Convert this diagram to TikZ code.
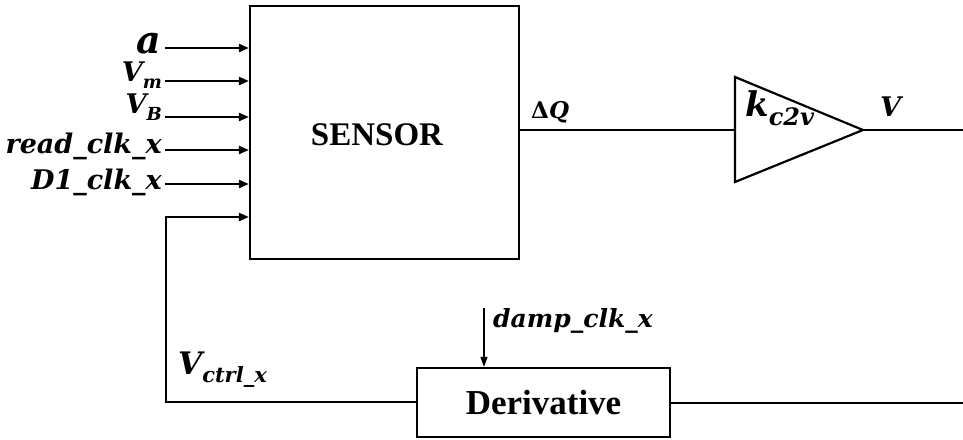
\documentclass[tikz,border=0pt]{standalone}
\usepackage{fontspec}
\setmainfont{Liberation Serif}
\newfontfamily\labfont{DejaVu Serif}
\usetikzlibrary{arrows.meta}
\newcommand{\lsub}[2][18]{\raisebox{-0.28em}{\fontsize{#1pt}{#1pt}\selectfont #2}}
\begin{document}
\begin{tikzpicture}[x=1pt,y=-1pt,
  wire/.style={line width=2.2pt},
  inarrow/.style={line width=2.2pt,-{Triangle[length=10pt,width=8pt]}},
  thinarrow/.style={line width=1.1pt,-{Triangle[length=10pt,width=7pt]}},
  blockbox/.style={draw,line width=2.2pt,inner sep=0pt,font=\fontsize{33pt}{33pt}\selectfont\bfseries},
  lab/.style={inner sep=0pt,font=\labfont\bfseries\itshape\fontsize{27pt}{27pt}\selectfont},
  ]
\useasboundingbox (0,0) rectangle (963,439);
% blocks
\node[blockbox,minimum width=269pt,minimum height=253pt] (sensor) at (384.5,132.5) {};
\node[font=\fontsize{33pt}{33pt}\selectfont\bfseries] (sensortxt) at (377,135) {SENSOR};
\node[blockbox,minimum width=253pt,minimum height=69pt,font=\fontsize{35pt}{35pt}\selectfont\bfseries] (deriv) at (543.5,402.5) {Derivative};
% amplifier triangle
\coordinate (ampin) at (735,130);
\coordinate (ampout) at (863,130);
\draw[wire,line join=miter] (735,77) -- (ampout) -- (735,182) -- cycle;
\node[lab,font=\labfont\bfseries\itshape\fontsize{34pt}{34pt}\selectfont,anchor=base west] (klab) at (745,116) {k\lsub[24]{c2v}};
% input arrows
\foreach \yy/\nm in {48/ia,81/ib,117/ic,150/id,184/ie}{
  \coordinate (\nm) at (165,\yy);
  \draw[inarrow] (\nm) -- (sensor.west |- \nm);
}
\node[lab,anchor=base east,font=\labfont\bfseries\itshape\fontsize{38pt}{38pt}\selectfont] (la) at (161,53) {a};
\node[lab,anchor=base east] (lb) at (162,81) {V\lsub{m}};
\node[lab,anchor=base east] (lc) at (162,113) {V\lsub{B}};
\node[lab,anchor=base east] (ld) at (162,153) {read\_clk\_x};
\node[lab,anchor=base east] (le) at (162,189) {D1\_clk\_x};
% feedback
\coordinate (fbtop) at (166,217);
\coordinate (fbbot) at (166,402);
\draw[wire,-{Triangle[length=10pt,width=8pt]}] (deriv.west |- fbbot) -- (fbbot) -- (fbtop) -- (sensor.west |- fbtop);
\node[lab,anchor=base west,font=\labfont\bfseries\itshape\fontsize{31pt}{31pt}\selectfont] (lctrl) at (178,374) {V\lsub[21]{ctrl\_x}};
% damp clock
\coordinate (dampsrc) at (484,308);
\draw[thinarrow] (dampsrc) -- (dampsrc |- deriv.north);
\node[lab,anchor=base west,font=\labfont\bfseries\itshape\fontsize{25pt}{25pt}\selectfont] (ldamp) at (493,327) {damp\_clk\_x};
% output path
\draw[wire] (sensor.east |- ampin) -- (ampin);
\node[lab,anchor=base west,font=\labfont\bfseries\itshape\fontsize{23pt}{23pt}\selectfont] (ldq) at (531,118) {{\upshape Δ}Q};
\coordinate (outr) at (963,130);
\draw[wire] (ampout) -- (outr);
\node[lab,anchor=base west] (lv) at (880,116) {V};
\coordinate (derr) at (963,403);
\draw[wire] (deriv.east |- derr) -- (derr);
\end{tikzpicture}
\end{document}
